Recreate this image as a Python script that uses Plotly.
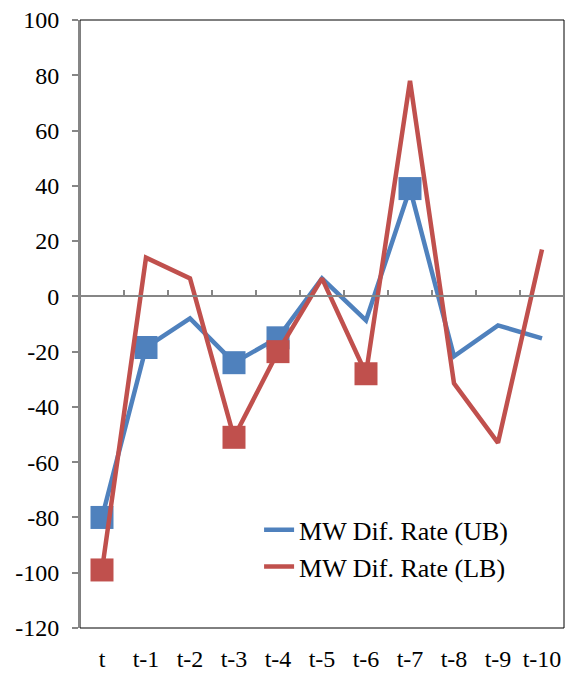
import plotly.graph_objects as go

categories = ["t", "t-1", "t-2", "t-3", "t-4", "t-5", "t-6", "t-7", "t-8", "t-9", "t-10"]
ub_values = [-80, -18.5, -8, -24, -15, 6.5, -8.7, 39, -21.7, -10.5, -15.2]
lb_values = [-99, 14, 6.5, -51, -20, 6.5, -28, 78, -31.5, -53, 17]
ub_marked = [True, True, False, True, True, False, False, True, False, False, False]
lb_marked = [True, False, False, True, True, False, True, False, False, False, False]
y_ticks = [-120, -100, -80, -60, -40, -20, 0, 20, 40, 60, 80, 100]
y_tick_labels = ["-120", "-100", "-80", "-60", "-40", "-20", "0", "20", "40", "60", "80", "100"]

BLUE = "#4F81BD"
RED = "#C0504D"
GRAY = "#868686"
FONT = "Liberation Serif, Times New Roman, serif"

ymin, ymax = -120, 100

fig = go.Figure()
fig.add_trace(go.Scatter(x=categories, y=ub_values, mode="lines", name="MW Dif. Rate (UB)",
                         line=dict(color=BLUE, width=4.5)))
fig.add_trace(go.Scatter(x=categories, y=[v if m else None for v, m in zip(ub_values, ub_marked)],
                         mode="markers", showlegend=False,
                         marker=dict(symbol="square", size=23, color=BLUE)))
fig.add_trace(go.Scatter(x=categories, y=lb_values, mode="lines", name="MW Dif. Rate (LB)",
                         line=dict(color=RED, width=4.5)))
fig.add_trace(go.Scatter(x=categories, y=[v if m else None for v, m in zip(lb_values, lb_marked)],
                         mode="markers", showlegend=False,
                         marker=dict(symbol="square", size=23, color=RED)))

plot_h = 673 - 20 - 45
zero_pos = (0 - ymin) / (ymax - ymin)

fig.update_layout(
    width=567, height=673,
    margin=dict(l=80, r=3, t=20, b=45, autoexpand=False),
    paper_bgcolor="white", plot_bgcolor="white",
    font=dict(family=FONT, size=24, color="black"),
    showlegend=True,
    legend=dict(x=0.37, y=0.2, xanchor="left", yanchor="top",
                bgcolor="rgba(0,0,0,0)", font=dict(family=FONT, size=26)),
    xaxis=dict(type="category", range=[-0.5, len(categories) - 0.5],
               anchor="free", position=zero_pos, automargin=False,
               showline=True, linecolor=GRAY, linewidth=1.5,
               ticks="inside", tickson="boundaries", ticklen=6, tickcolor=GRAY, tickwidth=1.5,
               showgrid=False, zeroline=False, tickangle=0,
               ticklabelstandoff=int(zero_pos * plot_h) + 10,
               tickfont=dict(family=FONT, size=24)),
    yaxis=dict(range=[ymin, ymax], tickvals=y_ticks, ticktext=y_tick_labels, automargin=False,
               showline=True, linecolor=GRAY, linewidth=2,
               ticks="outside", ticklen=6, tickcolor=GRAY, tickwidth=1.5,
               showgrid=False, zeroline=False, ticklabelstandoff=8,
               tickfont=dict(family=FONT, size=24)),
    shapes=[dict(type="rect", xref="paper", yref="paper", x0=0, x1=1, y0=0, y1=1,
                 line=dict(color="black", width=1), layer="below")],
)

fig.write_html("out.html")
